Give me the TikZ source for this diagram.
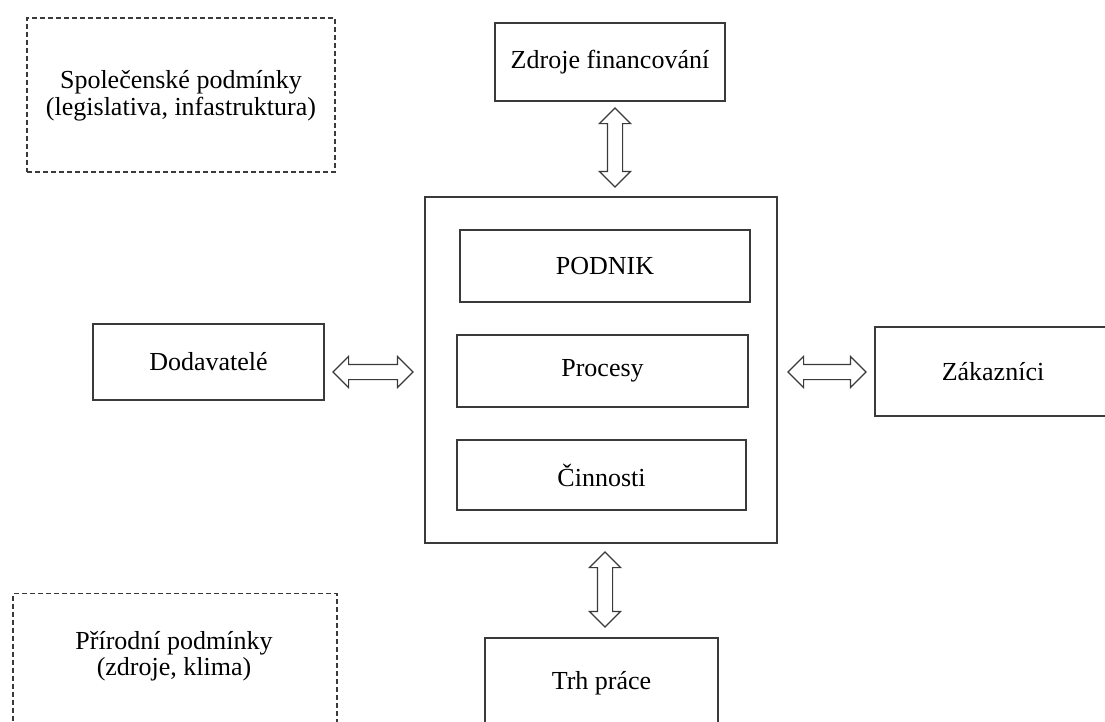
\documentclass[tikz,border=0pt]{standalone}
\usepackage{fontspec}
\setmainfont{Liberation Serif}
\usetikzlibrary{shapes.arrows}
\definecolor{ink}{HTML}{3A3A3A}
\tikzset{
  box/.style={draw=ink, line width=1.5pt, fill=white, inner sep=0pt,
    font=\fontsize{26}{27}\selectfont, text=black},
  dashbox/.style={box, dash pattern=on 5pt off 3pt, line width=1.2pt},
  txt/.style={align=center, inner sep=0pt, font=\fontsize{26}{26.5}\selectfont},
  flow/.style={double arrow, draw=ink, line width=1.2pt, fill=white,
    inner xsep=0pt, inner ysep=7pt, minimum width=30pt,
    double arrow head extend=8pt, double arrow tip angle=90}
}
\begin{document}
\begin{tikzpicture}[x=1pt, y=-1pt]
  \useasboundingbox (0,0) rectangle (1105,721);
  \clip (0,0) rectangle (1105,721);
  \fill[white] (0,0) rectangle (1105,721);

  % environment (dashed)
  \node[dashbox, minimum width=308, minimum height=154] (spol) at (181,95) {};
  \node[txt] (spoltxt) at (181,96) {Společenské podmínky\\(legislativa, infastruktura)};
  \node[dashbox, minimum width=324, minimum height=150, anchor=north] (prir) at (175,593) {};
  \node[txt] (prirtxt) at (174,656) {Přírodní podmínky\\(zdroje, klima)};

  % company and its parts
  \node[box, minimum width=352, minimum height=346] (podnik) at (601,370) {};
  \node[box, minimum width=290, minimum height=72] (pod) at (605,266) {PODNIK};
  \node[box, minimum width=291, minimum height=72] (proc) at (602.5,371) {Procesy};
  \node[box, minimum width=289, minimum height=70] (cinn) at (601.5,475) {Činnosti};

  % surrounding partners
  \node[box, minimum width=230, minimum height=78] (zdroje) at (610,62) {Zdroje financování};
  \node[box, minimum width=231, minimum height=76] (dod) at (208.5,362) {Dodavatelé};
  \node[box, minimum width=236, minimum height=89] (zak) at (993,371.5) {Zákazníci};
  \node[box, minimum width=233, minimum height=92, anchor=north] (trh) at (601.5,637) {};
  \node[txt] (trhtxt) at (601.5,683) {Trh práce};

  % two-way relations
  \node[flow, minimum height=79, rotate=90] (fzdr) at (615,147.5) {};
  \node[flow, minimum height=80] (fdod) at (373,372) {};
  \node[flow, minimum height=78] (fzak) at (827,372) {};
  \node[flow, minimum height=75, rotate=90] (ftrh) at (605,589.5) {};
\end{tikzpicture}
\end{document}
